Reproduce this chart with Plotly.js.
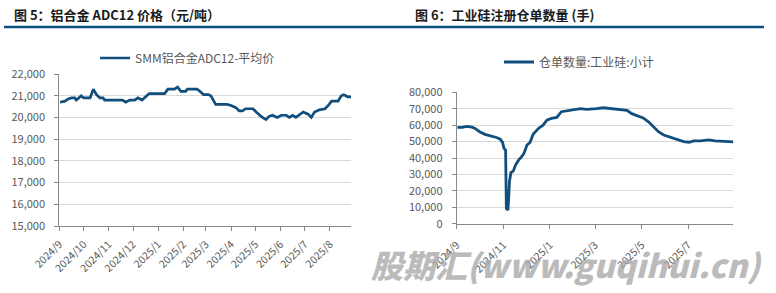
<!DOCTYPE html>
<html>
<head>
<meta charset="utf-8">
<script src="https://cdn.plot.ly/plotly-3.0.1.min.js"></script>
<style>
html,body{margin:0;padding:0;background:#fff;}
#chart{width:776px;height:293px;}
</style>
</head>
<body>
<div id="chart"></div>
<script>
// ---- Left chart: SMM ADC12 average price (yuan/ton) ----
const adcDates = [
 "2024-09-02","2024-09-08","2024-09-12","2024-09-16","2024-09-20","2024-09-22","2024-09-25","2024-09-28",
 "2024-10-01","2024-10-09","2024-10-13","2024-10-17","2024-10-21","2024-10-25","2024-10-27",
 "2024-11-18","2024-11-22","2024-11-27","2024-12-03","2024-12-07","2024-12-12","2024-12-17","2024-12-21",
 "2025-01-09","2025-01-13","2025-01-21","2025-01-25","2025-01-29","2025-02-04","2025-02-06","2025-02-18",
 "2025-02-20","2025-02-26","2025-03-04","2025-03-07","2025-03-13","2025-03-27","2025-04-01","2025-04-07",
 "2025-04-11","2025-04-15","2025-04-19","2025-04-28","2025-05-02","2025-05-08","2025-05-14","2025-05-18",
 "2025-05-22","2025-05-28","2025-06-02","2025-06-08","2025-06-12","2025-06-16","2025-06-20","2025-06-29",
 "2025-07-05","2025-07-09","2025-07-13","2025-07-19","2025-07-26","2025-07-30","2025-08-03","2025-08-11",
 "2025-08-15","2025-08-18","2025-08-23","2025-08-27"
];
const adcPrice = [
 20700,20750,20850,20900,20900,20800,20900,21000,
 20900,20900,21300,21050,20900,20900,20800,
 20800,20700,20800,20800,20900,20800,20950,21100,
 21100,21300,21300,21400,21200,21200,21300,21300,
 21250,21050,21050,21000,20600,20600,20550,20450,
 20300,20300,20400,20400,20250,20050,19900,20050,
 20100,20000,20100,20100,20000,20100,20000,20250,
 20150,20000,20250,20350,20400,20550,20750,20750,
 21000,21050,20950,20950
];
const adcTickVals = ["2024-09-01","2024-10-01","2024-11-01","2024-12-01","2025-01-01","2025-02-01","2025-03-01","2025-04-01","2025-05-01","2025-06-01","2025-07-01","2025-08-01"];
const adcTickText = ["2024/9","2024/10","2024/11","2024/12","2025/1","2025/2","2025/3","2025/4","2025/5","2025/6","2025/7","2025/8"];

// ---- Right chart: industrial silicon registered warrants (lots) ----
const siDates = [
 "2024-09-02","2024-09-08","2024-09-14","2024-09-21","2024-09-25","2024-10-01","2024-10-08","2024-10-12",
 "2024-10-17","2024-10-23","2024-10-28","2024-10-31","2024-11-02","2024-11-04","2024-11-05","2024-11-07",
 "2024-11-08","2024-11-09","2024-11-11","2024-11-14","2024-11-17","2024-11-21","2024-11-25","2024-11-28",
 "2024-12-02","2024-12-06","2024-12-10","2024-12-17","2024-12-23","2024-12-28","2025-01-03","2025-01-10",
 "2025-01-16","2025-01-23","2025-02-01","2025-02-10","2025-02-18","2025-02-27","2025-03-03","2025-03-12",
 "2025-03-21","2025-03-27","2025-04-03","2025-04-12","2025-04-18","2025-04-27","2025-05-03","2025-05-10",
 "2025-05-17","2025-05-23","2025-05-30","2025-06-08","2025-06-16","2025-06-25","2025-07-02","2025-07-08",
 "2025-07-17","2025-07-28","2025-08-05","2025-08-14","2025-08-29"
];
const siWarrants = [
 58600,58600,59200,58800,58000,56000,54400,54000,
 53300,52500,51500,49500,45800,44800,9300,8300,
 15400,25600,31200,32000,35700,38700,40800,42800,
 47900,49500,54400,58000,60000,63100,64100,64700,
 68200,68800,69400,70000,69600,69800,70000,70600,
 70200,70000,69600,69000,67000,65600,64400,62000,
 59000,56000,54000,52600,51000,50000,49600,50400,
 50400,51000,50400,50000,49800
];
const siTickVals = ["2024-09-01","2024-11-01","2025-01-01","2025-03-01","2025-05-01","2025-07-01"];
const siTickText = ["2024/9","2024/11","2025/1","2025/3","2025/5","2025/7"];

const titles = ["图 5：铝合金 ADC12 价格（元/吨）", "图 6：工业硅注册仓单数量 (手)"];
const seriesNames = ["SMM铝合金ADC12-平均价", "仓单数量:工业硅:小计"];
const watermark = "股期汇(www.guqihui.cn)";

const W = 776, H = 293;
const LINE = "#104e7e";
const AXC = "#898989";
const GRID = "#d9d9d9";
const TXT = "#595959";
const FONT = "'Noto Sans CJK SC', 'Noto Sans', sans-serif";
const px = v => v / W;
const py = v => (H - v) / H;

const traces = [
 {x: adcDates, y: adcPrice, type: "scatter", mode: "lines", name: seriesNames[0],
  line: {color: LINE, width: 2.7}, xaxis: "x", yaxis: "y", legend: "legend"},
 {x: siDates, y: siWarrants, type: "scatter", mode: "lines", name: seriesNames[1],
  line: {color: LINE, width: 2.8}, xaxis: "x2", yaxis: "y2", legend: "legend2"}
];

const xCommon = {
 type: "date", showgrid: false, zeroline: false, showline: true, linecolor: AXC, linewidth: 1,
 ticks: "outside", ticklen: 4, tickcolor: AXC, tickwidth: 1, tickangle: -45,
 tickfont: {family: FONT, size: 10.5, color: TXT}, fixedrange: true
};
const yCommon = {
 showgrid: true, gridcolor: GRID, gridwidth: 1, zeroline: false, showline: true, linecolor: AXC, linewidth: 1,
 ticks: "outside", ticklen: 4, tickcolor: AXC, tickwidth: 1, ticklabelstandoff: 7,
 tickfont: {family: FONT, size: 11, color: TXT}, tickformat: ",d", fixedrange: true
};

const layout = {
 width: W, height: H, margin: {l: 0, r: 0, t: 0, b: 0},
 paper_bgcolor: "#ffffff", plot_bgcolor: "#ffffff", showlegend: true,
 xaxis: Object.assign({}, xCommon, {domain: [px(59.3), px(351)], anchor: "y",
   range: ["2024-09-01", "2025-08-27"], tickvals: adcTickVals, ticktext: adcTickText, ticklabelstandoff: 3}),
 yaxis: Object.assign({}, yCommon, {domain: [py(226), py(74)], anchor: "x",
   range: [15000, 22000], dtick: 1000, tick0: 15000}),
 xaxis2: Object.assign({}, xCommon, {domain: [px(456.7), px(733.3)], anchor: "y2",
   range: ["2024-09-01", "2025-08-29"], tickvals: siTickVals, ticktext: siTickText, ticklabelstandoff: 6}),
 yaxis2: Object.assign({}, yCommon, {domain: [py(223.7), py(92.3)], anchor: "x2",
   range: [0, 80000], dtick: 10000, tick0: 0}),
 legend: {x: px(95), y: py(58), xanchor: "left", yanchor: "middle", bgcolor: "rgba(0,0,0,0)",
   font: {family: FONT, size: 12, color: TXT}, borderwidth: 0},
 legend2: {x: px(499), y: py(62), xanchor: "left", yanchor: "middle", bgcolor: "rgba(0,0,0,0)",
   font: {family: FONT, size: 12, color: TXT}, borderwidth: 0},
 shapes: [
  {type: "line", xref: "paper", yref: "paper", x0: px(4), x1: px(764), y0: py(27), y1: py(27),
   line: {color: "#0b4f7c", width: 2.5}}
 ],
 annotations: [
  {text: titles[0], xref: "paper", yref: "paper", x: px(12), y: py(14), xanchor: "left", yanchor: "middle",
   showarrow: false, font: {family: FONT, size: 13, color: "#1a1a1a", weight: "bold"}},
  {text: titles[1], xref: "paper", yref: "paper", x: px(413), y: py(14), xanchor: "left", yanchor: "middle",
   showarrow: false, font: {family: FONT, size: 13, color: "#1a1a1a", weight: "bold"}},
  {text: watermark, xref: "paper", yref: "paper", x: px(566), y: py(264), xanchor: "center", yanchor: "middle",
   showarrow: false, opacity: 0.78, font: {family: FONT, size: 32, color: "#a8a8a8", weight: 900, style: "italic"}}
 ]
};

Plotly.newPlot("chart", traces, layout, {staticPlot: true, displayModeBar: false});
</script>
</body>
</html>
